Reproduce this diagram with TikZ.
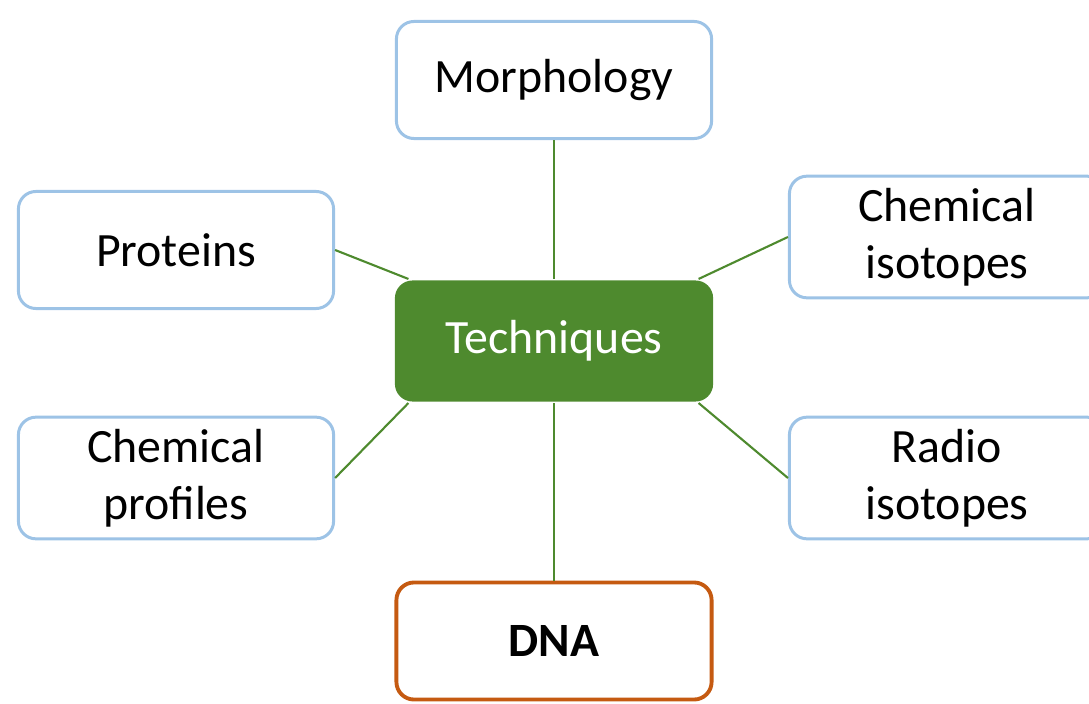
\documentclass[tikz,border=0pt]{standalone}
\usepackage{fontspec}
\setmainfont{Carlito}
\usepackage{xcolor}
\usepackage{tikz}
\usetikzlibrary{calc}
\definecolor{boxblue}{HTML}{9DC3E6}
\definecolor{hubgreen}{HTML}{4E8A2E}
\definecolor{dnaorange}{HTML}{C55A11}

\begin{document}
\begin{tikzpicture}[
  x=0.01cm, y=-0.01cm,
  topic/.style={rectangle, draw=boxblue, line width=0.85pt, rounded corners=5pt,
                fill=white, minimum width=3.15cm, minimum height=1.17cm,
                font=\fontsize{13.6}{16.3}\selectfont, align=center},
  hub/.style={topic, draw=none, fill=hubgreen, text=white, minimum width=3.18cm,
              minimum height=1.21cm},
  keytopic/.style={topic, draw=dnaorange, line width=1.1pt,
                   font=\fontsize{13.6}{16.3}\selectfont\bfseries},
  link/.style={draw=hubgreen, line width=0.6pt}
]
\useasboundingbox (0,0) rectangle (1089,704);

% Centre
\node[hub] (tech) at (554,341) {Techniques};
\coordinate (techNW) at ($(tech.north west)+(15,0)$);
\coordinate (techNE) at ($(tech.north east)+(-16,0)$);
\coordinate (techSW) at ($(tech.south west)+(15,0)$);
\coordinate (techSE) at ($(tech.south east)+(-16,0)$);

% Surrounding topics
\node[topic] (morph) at (554,80) {Morphology};
\node[topic] (prot) at (176,250) {Proteins};
\node[topic] (chemiso) at (947,237) {Chemical\\isotopes};
\node[topic] (chemprof) at (176,478) {Chemical\\profiles};
\node[topic] (radio) at (947,478) {Radio\\isotopes};
\node[keytopic] (dna) at (554,641) {DNA};

% Links
\draw[link] (morph) -- (tech);
\draw[link] (prot.east) -- (techNW);
\draw[link] (chemiso.west) -- (techNE);
\draw[link] (chemprof.east) -- (techSW);
\draw[link] (radio.west) -- (techSE);
\draw[link] (dna) -- (tech);

\end{tikzpicture}
\end{document}
